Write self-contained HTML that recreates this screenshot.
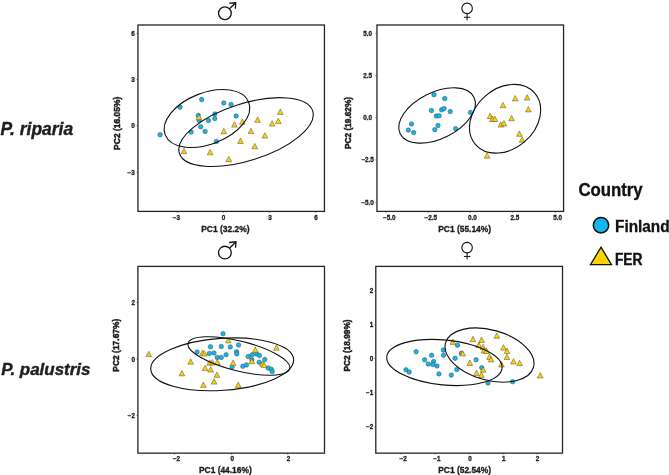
<!DOCTYPE html>
<html><head><meta charset="utf-8"><style>
html,body{margin:0;padding:0;background:#fff;}
body{width:669px;height:475px;overflow:hidden;}
svg{display:block;will-change:transform;}
</style></head><body>
<svg width="669" height="475" viewBox="0 0 669 475">
<rect width="669" height="475" fill="#fff"/>
<line x1="177.3" y1="211.4" x2="177.3" y2="213.0" stroke="#555" stroke-width="0.6"/><text x="176.3" y="220" text-anchor="middle" font-family="Liberation Sans" font-weight="bold" font-size="6.3" fill="#1e1e1e" stroke="#1e1e1e" stroke-width="0.3">−3</text>
<line x1="223.3" y1="211.4" x2="223.3" y2="213.0" stroke="#555" stroke-width="0.6"/><text x="223.5" y="220" text-anchor="middle" font-family="Liberation Sans" font-weight="bold" font-size="6.3" fill="#1e1e1e" stroke="#1e1e1e" stroke-width="0.3">0</text>
<line x1="269.5" y1="211.4" x2="269.5" y2="213.0" stroke="#555" stroke-width="0.6"/><text x="269.9" y="220" text-anchor="middle" font-family="Liberation Sans" font-weight="bold" font-size="6.3" fill="#1e1e1e" stroke="#1e1e1e" stroke-width="0.3">3</text>
<line x1="315.6" y1="211.4" x2="315.6" y2="213.0" stroke="#555" stroke-width="0.6"/><text x="315.9" y="220" text-anchor="middle" font-family="Liberation Sans" font-weight="bold" font-size="6.3" fill="#1e1e1e" stroke="#1e1e1e" stroke-width="0.3">6</text>
<line x1="136.35" y1="33.4" x2="137.95" y2="33.4" stroke="#555" stroke-width="0.6"/><text x="134.7" y="36" text-anchor="end" font-family="Liberation Sans" font-weight="bold" font-size="6.3" fill="#1e1e1e" stroke="#1e1e1e" stroke-width="0.3">6</text>
<line x1="136.35" y1="79.6" x2="137.95" y2="79.6" stroke="#555" stroke-width="0.6"/><text x="134.7" y="82" text-anchor="end" font-family="Liberation Sans" font-weight="bold" font-size="6.3" fill="#1e1e1e" stroke="#1e1e1e" stroke-width="0.3">3</text>
<line x1="136.35" y1="125.7" x2="137.95" y2="125.7" stroke="#555" stroke-width="0.6"/><text x="134.7" y="128" text-anchor="end" font-family="Liberation Sans" font-weight="bold" font-size="6.3" fill="#1e1e1e" stroke="#1e1e1e" stroke-width="0.3">0</text>
<line x1="136.35" y1="172.3" x2="137.95" y2="172.3" stroke="#555" stroke-width="0.6"/><text x="134.7" y="175" text-anchor="end" font-family="Liberation Sans" font-weight="bold" font-size="6.3" fill="#1e1e1e" stroke="#1e1e1e" stroke-width="0.3">−3</text>
<line x1="386" y1="211.4" x2="386" y2="213.0" stroke="#555" stroke-width="0.6"/><text x="389.2" y="220" text-anchor="middle" font-family="Liberation Sans" font-weight="bold" font-size="6.3" fill="#1e1e1e" stroke="#1e1e1e" stroke-width="0.3">−5.0</text>
<line x1="428.1" y1="211.4" x2="428.1" y2="213.0" stroke="#555" stroke-width="0.6"/><text x="430.8" y="220" text-anchor="middle" font-family="Liberation Sans" font-weight="bold" font-size="6.3" fill="#1e1e1e" stroke="#1e1e1e" stroke-width="0.3">−2.5</text>
<line x1="470.1" y1="211.4" x2="470.1" y2="213.0" stroke="#555" stroke-width="0.6"/><text x="472.5" y="220" text-anchor="middle" font-family="Liberation Sans" font-weight="bold" font-size="6.3" fill="#1e1e1e" stroke="#1e1e1e" stroke-width="0.3">0.0</text>
<line x1="512.7" y1="211.4" x2="512.7" y2="213.0" stroke="#555" stroke-width="0.6"/><text x="515" y="220" text-anchor="middle" font-family="Liberation Sans" font-weight="bold" font-size="6.3" fill="#1e1e1e" stroke="#1e1e1e" stroke-width="0.3">2.5</text>
<line x1="555.3" y1="211.4" x2="555.3" y2="213.0" stroke="#555" stroke-width="0.6"/><text x="557.6" y="220" text-anchor="middle" font-family="Liberation Sans" font-weight="bold" font-size="6.3" fill="#1e1e1e" stroke="#1e1e1e" stroke-width="0.3">5.0</text>
<line x1="375.34999999999997" y1="33.4" x2="376.95" y2="33.4" stroke="#555" stroke-width="0.6"/><text x="367.6" y="36" text-anchor="middle" font-family="Liberation Sans" font-weight="bold" font-size="6.3" fill="#1e1e1e" stroke="#1e1e1e" stroke-width="0.3">5.0</text>
<line x1="375.34999999999997" y1="75.5" x2="376.95" y2="75.5" stroke="#555" stroke-width="0.6"/><text x="367.6" y="78" text-anchor="middle" font-family="Liberation Sans" font-weight="bold" font-size="6.3" fill="#1e1e1e" stroke="#1e1e1e" stroke-width="0.3">2.5</text>
<line x1="375.34999999999997" y1="117.6" x2="376.95" y2="117.6" stroke="#555" stroke-width="0.6"/><text x="367.6" y="120" text-anchor="middle" font-family="Liberation Sans" font-weight="bold" font-size="6.3" fill="#1e1e1e" stroke="#1e1e1e" stroke-width="0.3">0.0</text>
<line x1="375.34999999999997" y1="159.8" x2="376.95" y2="159.8" stroke="#555" stroke-width="0.6"/><text x="367.6" y="162" text-anchor="middle" font-family="Liberation Sans" font-weight="bold" font-size="6.3" fill="#1e1e1e" stroke="#1e1e1e" stroke-width="0.3">−2.5</text>
<line x1="375.34999999999997" y1="202.2" x2="376.95" y2="202.2" stroke="#555" stroke-width="0.6"/><text x="367.6" y="205" text-anchor="middle" font-family="Liberation Sans" font-weight="bold" font-size="6.3" fill="#1e1e1e" stroke="#1e1e1e" stroke-width="0.3">−5.0</text>
<line x1="174.4" y1="453.15" x2="174.4" y2="454.75" stroke="#555" stroke-width="0.6"/><text x="176.5" y="461" text-anchor="middle" font-family="Liberation Sans" font-weight="bold" font-size="6.3" fill="#1e1e1e" stroke="#1e1e1e" stroke-width="0.3">−2</text>
<line x1="231.4" y1="453.15" x2="231.4" y2="454.75" stroke="#555" stroke-width="0.6"/><text x="232.2" y="461" text-anchor="middle" font-family="Liberation Sans" font-weight="bold" font-size="6.3" fill="#1e1e1e" stroke="#1e1e1e" stroke-width="0.3">0</text>
<line x1="287.6" y1="453.15" x2="287.6" y2="454.75" stroke="#555" stroke-width="0.6"/><text x="288.45" y="461" text-anchor="middle" font-family="Liberation Sans" font-weight="bold" font-size="6.3" fill="#1e1e1e" stroke="#1e1e1e" stroke-width="0.3">2</text>
<line x1="136.3" y1="302.4" x2="137.9" y2="302.4" stroke="#555" stroke-width="0.6"/><text x="134.9" y="305" text-anchor="end" font-family="Liberation Sans" font-weight="bold" font-size="6.3" fill="#1e1e1e" stroke="#1e1e1e" stroke-width="0.3">2</text>
<line x1="136.3" y1="359.0" x2="137.9" y2="359.0" stroke="#555" stroke-width="0.6"/><text x="134.9" y="362" text-anchor="end" font-family="Liberation Sans" font-weight="bold" font-size="6.3" fill="#1e1e1e" stroke="#1e1e1e" stroke-width="0.3">0</text>
<line x1="136.3" y1="415.6" x2="137.9" y2="415.6" stroke="#555" stroke-width="0.6"/><text x="134.9" y="418" text-anchor="end" font-family="Liberation Sans" font-weight="bold" font-size="6.3" fill="#1e1e1e" stroke="#1e1e1e" stroke-width="0.3">−2</text>
<line x1="401.2" y1="453.15" x2="401.2" y2="454.75" stroke="#555" stroke-width="0.6"/><text x="403.2" y="461" text-anchor="middle" font-family="Liberation Sans" font-weight="bold" font-size="6.3" fill="#1e1e1e" stroke="#1e1e1e" stroke-width="0.3">−2</text>
<line x1="435.1" y1="453.15" x2="435.1" y2="454.75" stroke="#555" stroke-width="0.6"/><text x="436.8" y="461" text-anchor="middle" font-family="Liberation Sans" font-weight="bold" font-size="6.3" fill="#1e1e1e" stroke="#1e1e1e" stroke-width="0.3">−1</text>
<line x1="469.1" y1="453.15" x2="469.1" y2="454.75" stroke="#555" stroke-width="0.6"/><text x="469.9" y="461" text-anchor="middle" font-family="Liberation Sans" font-weight="bold" font-size="6.3" fill="#1e1e1e" stroke="#1e1e1e" stroke-width="0.3">0</text>
<line x1="503.05" y1="453.15" x2="503.05" y2="454.75" stroke="#555" stroke-width="0.6"/><text x="503.8" y="461" text-anchor="middle" font-family="Liberation Sans" font-weight="bold" font-size="6.3" fill="#1e1e1e" stroke="#1e1e1e" stroke-width="0.3">1</text>
<line x1="537.0" y1="453.15" x2="537.0" y2="454.75" stroke="#555" stroke-width="0.6"/><text x="537.4" y="461" text-anchor="middle" font-family="Liberation Sans" font-weight="bold" font-size="6.3" fill="#1e1e1e" stroke="#1e1e1e" stroke-width="0.3">2</text>
<line x1="374.2" y1="290.9" x2="375.8" y2="290.9" stroke="#555" stroke-width="0.6"/><text x="373.2" y="293" text-anchor="end" font-family="Liberation Sans" font-weight="bold" font-size="6.3" fill="#1e1e1e" stroke="#1e1e1e" stroke-width="0.3">2</text>
<line x1="374.2" y1="324.8" x2="375.8" y2="324.8" stroke="#555" stroke-width="0.6"/><text x="373.2" y="327" text-anchor="end" font-family="Liberation Sans" font-weight="bold" font-size="6.3" fill="#1e1e1e" stroke="#1e1e1e" stroke-width="0.3">1</text>
<line x1="374.2" y1="358.5" x2="375.8" y2="358.5" stroke="#555" stroke-width="0.6"/><text x="373.2" y="361" text-anchor="end" font-family="Liberation Sans" font-weight="bold" font-size="6.3" fill="#1e1e1e" stroke="#1e1e1e" stroke-width="0.3">0</text>
<line x1="374.2" y1="392.8" x2="375.8" y2="392.8" stroke="#555" stroke-width="0.6"/><text x="373.2" y="395" text-anchor="end" font-family="Liberation Sans" font-weight="bold" font-size="6.3" fill="#1e1e1e" stroke="#1e1e1e" stroke-width="0.3">−1</text>
<line x1="374.2" y1="426.9" x2="375.8" y2="426.9" stroke="#555" stroke-width="0.6"/><text x="373.2" y="429" text-anchor="end" font-family="Liberation Sans" font-weight="bold" font-size="6.3" fill="#1e1e1e" stroke="#1e1e1e" stroke-width="0.3">−2</text>
<text x="201.2" y="231.7" textLength="48.30000000000001" lengthAdjust="spacingAndGlyphs" font-family="Liberation Sans" font-weight="bold" font-size="9.4" fill="#1e1e1e" stroke="#1e1e1e" stroke-width="0.35">PC1 (32.2%)</text>
<text x="438.2" y="232.3" textLength="52.900000000000034" lengthAdjust="spacingAndGlyphs" font-family="Liberation Sans" font-weight="bold" font-size="9.4" fill="#1e1e1e" stroke="#1e1e1e" stroke-width="0.35">PC1 (55.14%)</text>
<text x="199.0" y="473.0" textLength="52.69999999999999" lengthAdjust="spacingAndGlyphs" font-family="Liberation Sans" font-weight="bold" font-size="9.4" fill="#1e1e1e" stroke="#1e1e1e" stroke-width="0.35">PC1 (44.16%)</text>
<text x="438.2" y="472.5" textLength="52.900000000000034" lengthAdjust="spacingAndGlyphs" font-family="Liberation Sans" font-weight="bold" font-size="9.4" fill="#1e1e1e" stroke="#1e1e1e" stroke-width="0.35">PC1 (52.54%)</text>
<text x="0" y="0" transform="translate(119.7 149.9) rotate(-90)" textLength="53.30000000000001" lengthAdjust="spacingAndGlyphs" font-family="Liberation Sans" font-weight="bold" font-size="9.4" fill="#1e1e1e" stroke="#1e1e1e" stroke-width="0.5">PC2 (16.05%)</text>
<text x="0" y="0" transform="translate(350.7 149.0) rotate(-90)" textLength="52.099999999999994" lengthAdjust="spacingAndGlyphs" font-family="Liberation Sans" font-weight="bold" font-size="9.4" fill="#1e1e1e" stroke="#1e1e1e" stroke-width="0.5">PC2 (19.62%)</text>
<text x="0" y="0" transform="translate(119.3 371.7) rotate(-90)" textLength="53.099999999999966" lengthAdjust="spacingAndGlyphs" font-family="Liberation Sans" font-weight="bold" font-size="9.4" fill="#1e1e1e" stroke="#1e1e1e" stroke-width="0.5">PC2 (17.67%)</text>
<text x="0" y="0" transform="translate(350.4 371.4) rotate(-90)" textLength="52.0" lengthAdjust="spacingAndGlyphs" font-family="Liberation Sans" font-weight="bold" font-size="9.4" fill="#1e1e1e" stroke="#1e1e1e" stroke-width="0.5">PC2 (18.99%)</text>
<circle cx="160.10" cy="134.70" r="2.25" fill="#14B6F0" stroke="#3a3a3a" stroke-width="0.45"/>
<circle cx="180.00" cy="107.20" r="2.25" fill="#14B6F0" stroke="#3a3a3a" stroke-width="0.45"/>
<circle cx="201.70" cy="99.60" r="2.25" fill="#14B6F0" stroke="#3a3a3a" stroke-width="0.45"/>
<circle cx="223.80" cy="102.90" r="2.25" fill="#14B6F0" stroke="#3a3a3a" stroke-width="0.45"/>
<circle cx="231.00" cy="104.50" r="2.25" fill="#14B6F0" stroke="#3a3a3a" stroke-width="0.45"/>
<circle cx="236.20" cy="116.00" r="2.25" fill="#14B6F0" stroke="#3a3a3a" stroke-width="0.45"/>
<circle cx="198.30" cy="115.50" r="2.25" fill="#14B6F0" stroke="#3a3a3a" stroke-width="0.45"/>
<circle cx="199.20" cy="120.60" r="2.25" fill="#14B6F0" stroke="#3a3a3a" stroke-width="0.45"/>
<circle cx="208.50" cy="120.50" r="2.25" fill="#14B6F0" stroke="#3a3a3a" stroke-width="0.45"/>
<circle cx="214.80" cy="114.00" r="2.25" fill="#14B6F0" stroke="#3a3a3a" stroke-width="0.45"/>
<circle cx="214.80" cy="118.60" r="2.25" fill="#14B6F0" stroke="#3a3a3a" stroke-width="0.45"/>
<circle cx="200.70" cy="126.80" r="2.25" fill="#14B6F0" stroke="#3a3a3a" stroke-width="0.45"/>
<circle cx="205.10" cy="131.40" r="2.25" fill="#14B6F0" stroke="#3a3a3a" stroke-width="0.45"/>
<circle cx="191.10" cy="132.10" r="2.25" fill="#14B6F0" stroke="#3a3a3a" stroke-width="0.45"/>
<circle cx="216.40" cy="141.50" r="2.25" fill="#14B6F0" stroke="#3a3a3a" stroke-width="0.45"/>
<path d="M198.90 114.40L201.75 119.80L196.05 119.80Z" fill="#FDD200" stroke="#3a3a3a" stroke-width="0.45" stroke-linejoin="miter"/>
<path d="M234.50 121.70L237.35 127.10L231.65 127.10Z" fill="#FDD200" stroke="#3a3a3a" stroke-width="0.45" stroke-linejoin="miter"/>
<path d="M242.30 118.90L245.15 124.30L239.45 124.30Z" fill="#FDD200" stroke="#3a3a3a" stroke-width="0.45" stroke-linejoin="miter"/>
<path d="M223.80 128.40L226.65 133.80L220.95 133.80Z" fill="#FDD200" stroke="#3a3a3a" stroke-width="0.45" stroke-linejoin="miter"/>
<path d="M184.00 148.20L186.85 153.60L181.15 153.60Z" fill="#FDD200" stroke="#3a3a3a" stroke-width="0.45" stroke-linejoin="miter"/>
<path d="M210.10 149.40L212.95 154.80L207.25 154.80Z" fill="#FDD200" stroke="#3a3a3a" stroke-width="0.45" stroke-linejoin="miter"/>
<path d="M228.80 156.30L231.65 161.70L225.95 161.70Z" fill="#FDD200" stroke="#3a3a3a" stroke-width="0.45" stroke-linejoin="miter"/>
<path d="M250.90 128.20L253.75 133.60L248.05 133.60Z" fill="#FDD200" stroke="#3a3a3a" stroke-width="0.45" stroke-linejoin="miter"/>
<path d="M240.50 138.10L243.35 143.50L237.65 143.50Z" fill="#FDD200" stroke="#3a3a3a" stroke-width="0.45" stroke-linejoin="miter"/>
<path d="M254.80 143.40L257.65 148.80L251.95 148.80Z" fill="#FDD200" stroke="#3a3a3a" stroke-width="0.45" stroke-linejoin="miter"/>
<path d="M257.60 116.90L260.45 122.30L254.75 122.30Z" fill="#FDD200" stroke="#3a3a3a" stroke-width="0.45" stroke-linejoin="miter"/>
<path d="M264.90 132.70L267.75 138.10L262.05 138.10Z" fill="#FDD200" stroke="#3a3a3a" stroke-width="0.45" stroke-linejoin="miter"/>
<path d="M272.20 120.70L275.05 126.10L269.35 126.10Z" fill="#FDD200" stroke="#3a3a3a" stroke-width="0.45" stroke-linejoin="miter"/>
<path d="M278.30 118.20L281.15 123.60L275.45 123.60Z" fill="#FDD200" stroke="#3a3a3a" stroke-width="0.45" stroke-linejoin="miter"/>
<path d="M280.30 109.00L283.15 114.40L277.45 114.40Z" fill="#FDD200" stroke="#3a3a3a" stroke-width="0.45" stroke-linejoin="miter"/>
<circle cx="434.00" cy="94.70" r="2.25" fill="#14B6F0" stroke="#3a3a3a" stroke-width="0.45"/>
<circle cx="444.80" cy="98.60" r="2.25" fill="#14B6F0" stroke="#3a3a3a" stroke-width="0.45"/>
<circle cx="431.40" cy="110.50" r="2.25" fill="#14B6F0" stroke="#3a3a3a" stroke-width="0.45"/>
<circle cx="441.60" cy="109.80" r="2.25" fill="#14B6F0" stroke="#3a3a3a" stroke-width="0.45"/>
<circle cx="444.10" cy="108.60" r="2.25" fill="#14B6F0" stroke="#3a3a3a" stroke-width="0.45"/>
<circle cx="450.20" cy="111.50" r="2.25" fill="#14B6F0" stroke="#3a3a3a" stroke-width="0.45"/>
<circle cx="436.30" cy="116.10" r="2.25" fill="#14B6F0" stroke="#3a3a3a" stroke-width="0.45"/>
<circle cx="439.20" cy="115.70" r="2.25" fill="#14B6F0" stroke="#3a3a3a" stroke-width="0.45"/>
<circle cx="411.50" cy="123.90" r="2.25" fill="#14B6F0" stroke="#3a3a3a" stroke-width="0.45"/>
<circle cx="408.30" cy="130.10" r="2.25" fill="#14B6F0" stroke="#3a3a3a" stroke-width="0.45"/>
<circle cx="413.70" cy="132.60" r="2.25" fill="#14B6F0" stroke="#3a3a3a" stroke-width="0.45"/>
<circle cx="438.00" cy="125.50" r="2.25" fill="#14B6F0" stroke="#3a3a3a" stroke-width="0.45"/>
<circle cx="434.80" cy="129.70" r="2.25" fill="#14B6F0" stroke="#3a3a3a" stroke-width="0.45"/>
<circle cx="455.60" cy="128.70" r="2.25" fill="#14B6F0" stroke="#3a3a3a" stroke-width="0.45"/>
<circle cx="470.50" cy="112.40" r="2.25" fill="#14B6F0" stroke="#3a3a3a" stroke-width="0.45"/>
<path d="M515.20 95.50L518.05 100.90L512.35 100.90Z" fill="#FDD200" stroke="#3a3a3a" stroke-width="0.45" stroke-linejoin="miter"/>
<path d="M527.10 94.70L529.95 100.10L524.25 100.10Z" fill="#FDD200" stroke="#3a3a3a" stroke-width="0.45" stroke-linejoin="miter"/>
<path d="M503.00 102.30L505.85 107.70L500.15 107.70Z" fill="#FDD200" stroke="#3a3a3a" stroke-width="0.45" stroke-linejoin="miter"/>
<path d="M528.30 106.50L531.15 111.90L525.45 111.90Z" fill="#FDD200" stroke="#3a3a3a" stroke-width="0.45" stroke-linejoin="miter"/>
<path d="M490.10 113.20L492.95 118.60L487.25 118.60Z" fill="#FDD200" stroke="#3a3a3a" stroke-width="0.45" stroke-linejoin="miter"/>
<path d="M492.40 116.10L495.25 121.50L489.55 121.50Z" fill="#FDD200" stroke="#3a3a3a" stroke-width="0.45" stroke-linejoin="miter"/>
<path d="M494.80 116.10L497.65 121.50L491.95 121.50Z" fill="#FDD200" stroke="#3a3a3a" stroke-width="0.45" stroke-linejoin="miter"/>
<path d="M511.60 115.40L514.45 120.80L508.75 120.80Z" fill="#FDD200" stroke="#3a3a3a" stroke-width="0.45" stroke-linejoin="miter"/>
<path d="M500.80 121.70L503.65 127.10L497.95 127.10Z" fill="#FDD200" stroke="#3a3a3a" stroke-width="0.45" stroke-linejoin="miter"/>
<path d="M503.90 120.50L506.75 125.90L501.05 125.90Z" fill="#FDD200" stroke="#3a3a3a" stroke-width="0.45" stroke-linejoin="miter"/>
<path d="M519.40 130.90L522.25 136.30L516.55 136.30Z" fill="#FDD200" stroke="#3a3a3a" stroke-width="0.45" stroke-linejoin="miter"/>
<path d="M522.10 136.80L524.95 142.20L519.25 142.20Z" fill="#FDD200" stroke="#3a3a3a" stroke-width="0.45" stroke-linejoin="miter"/>
<path d="M487.00 152.80L489.85 158.20L484.15 158.20Z" fill="#FDD200" stroke="#3a3a3a" stroke-width="0.45" stroke-linejoin="miter"/>
<circle cx="223.00" cy="333.70" r="2.25" fill="#14B6F0" stroke="#3a3a3a" stroke-width="0.45"/>
<circle cx="210.50" cy="346.80" r="2.25" fill="#14B6F0" stroke="#3a3a3a" stroke-width="0.45"/>
<circle cx="221.30" cy="346.50" r="2.25" fill="#14B6F0" stroke="#3a3a3a" stroke-width="0.45"/>
<circle cx="230.30" cy="346.90" r="2.25" fill="#14B6F0" stroke="#3a3a3a" stroke-width="0.45"/>
<circle cx="238.50" cy="345.00" r="2.25" fill="#14B6F0" stroke="#3a3a3a" stroke-width="0.45"/>
<circle cx="197.10" cy="352.00" r="2.25" fill="#14B6F0" stroke="#3a3a3a" stroke-width="0.45"/>
<circle cx="209.30" cy="353.40" r="2.25" fill="#14B6F0" stroke="#3a3a3a" stroke-width="0.45"/>
<circle cx="214.00" cy="353.10" r="2.25" fill="#14B6F0" stroke="#3a3a3a" stroke-width="0.45"/>
<circle cx="226.10" cy="354.70" r="2.25" fill="#14B6F0" stroke="#3a3a3a" stroke-width="0.45"/>
<circle cx="236.60" cy="351.80" r="2.25" fill="#14B6F0" stroke="#3a3a3a" stroke-width="0.45"/>
<circle cx="236.80" cy="353.90" r="2.25" fill="#14B6F0" stroke="#3a3a3a" stroke-width="0.45"/>
<circle cx="217.20" cy="357.40" r="2.25" fill="#14B6F0" stroke="#3a3a3a" stroke-width="0.45"/>
<circle cx="221.30" cy="357.40" r="2.25" fill="#14B6F0" stroke="#3a3a3a" stroke-width="0.45"/>
<circle cx="232.10" cy="366.90" r="2.25" fill="#14B6F0" stroke="#3a3a3a" stroke-width="0.45"/>
<circle cx="242.80" cy="366.30" r="2.25" fill="#14B6F0" stroke="#3a3a3a" stroke-width="0.45"/>
<circle cx="246.50" cy="364.90" r="2.25" fill="#14B6F0" stroke="#3a3a3a" stroke-width="0.45"/>
<circle cx="248.20" cy="356.60" r="2.25" fill="#14B6F0" stroke="#3a3a3a" stroke-width="0.45"/>
<circle cx="252.20" cy="354.80" r="2.25" fill="#14B6F0" stroke="#3a3a3a" stroke-width="0.45"/>
<circle cx="251.90" cy="359.80" r="2.25" fill="#14B6F0" stroke="#3a3a3a" stroke-width="0.45"/>
<circle cx="256.70" cy="353.90" r="2.25" fill="#14B6F0" stroke="#3a3a3a" stroke-width="0.45"/>
<circle cx="259.50" cy="355.50" r="2.25" fill="#14B6F0" stroke="#3a3a3a" stroke-width="0.45"/>
<circle cx="264.80" cy="359.50" r="2.25" fill="#14B6F0" stroke="#3a3a3a" stroke-width="0.45"/>
<circle cx="259.20" cy="362.20" r="2.25" fill="#14B6F0" stroke="#3a3a3a" stroke-width="0.45"/>
<circle cx="268.20" cy="367.90" r="2.25" fill="#14B6F0" stroke="#3a3a3a" stroke-width="0.45"/>
<circle cx="271.20" cy="369.20" r="2.25" fill="#14B6F0" stroke="#3a3a3a" stroke-width="0.45"/>
<circle cx="272.20" cy="371.60" r="2.25" fill="#14B6F0" stroke="#3a3a3a" stroke-width="0.45"/>
<path d="M148.80 351.20L151.65 356.60L145.95 356.60Z" fill="#FDD200" stroke="#3a3a3a" stroke-width="0.45" stroke-linejoin="miter"/>
<path d="M190.70 358.80L193.55 364.20L187.85 364.20Z" fill="#FDD200" stroke="#3a3a3a" stroke-width="0.45" stroke-linejoin="miter"/>
<path d="M181.90 370.50L184.75 375.90L179.05 375.90Z" fill="#FDD200" stroke="#3a3a3a" stroke-width="0.45" stroke-linejoin="miter"/>
<path d="M202.60 349.90L205.45 355.30L199.75 355.30Z" fill="#FDD200" stroke="#3a3a3a" stroke-width="0.45" stroke-linejoin="miter"/>
<path d="M204.40 350.70L207.25 356.10L201.55 356.10Z" fill="#FDD200" stroke="#3a3a3a" stroke-width="0.45" stroke-linejoin="miter"/>
<path d="M209.60 359.80L212.45 365.20L206.75 365.20Z" fill="#FDD200" stroke="#3a3a3a" stroke-width="0.45" stroke-linejoin="miter"/>
<path d="M212.40 359.60L215.25 365.00L209.55 365.00Z" fill="#FDD200" stroke="#3a3a3a" stroke-width="0.45" stroke-linejoin="miter"/>
<path d="M217.40 359.30L220.25 364.70L214.55 364.70Z" fill="#FDD200" stroke="#3a3a3a" stroke-width="0.45" stroke-linejoin="miter"/>
<path d="M205.10 365.20L207.95 370.60L202.25 370.60Z" fill="#FDD200" stroke="#3a3a3a" stroke-width="0.45" stroke-linejoin="miter"/>
<path d="M210.70 366.60L213.55 372.00L207.85 372.00Z" fill="#FDD200" stroke="#3a3a3a" stroke-width="0.45" stroke-linejoin="miter"/>
<path d="M216.90 372.00L219.75 377.40L214.05 377.40Z" fill="#FDD200" stroke="#3a3a3a" stroke-width="0.45" stroke-linejoin="miter"/>
<path d="M214.10 378.70L216.95 384.10L211.25 384.10Z" fill="#FDD200" stroke="#3a3a3a" stroke-width="0.45" stroke-linejoin="miter"/>
<path d="M203.40 382.00L206.25 387.40L200.55 387.40Z" fill="#FDD200" stroke="#3a3a3a" stroke-width="0.45" stroke-linejoin="miter"/>
<path d="M228.30 337.50L231.15 342.90L225.45 342.90Z" fill="#FDD200" stroke="#3a3a3a" stroke-width="0.45" stroke-linejoin="miter"/>
<path d="M255.30 347.00L258.15 352.40L252.45 352.40Z" fill="#FDD200" stroke="#3a3a3a" stroke-width="0.45" stroke-linejoin="miter"/>
<path d="M276.40 344.80L279.25 350.20L273.55 350.20Z" fill="#FDD200" stroke="#3a3a3a" stroke-width="0.45" stroke-linejoin="miter"/>
<path d="M233.10 360.00L235.95 365.40L230.25 365.40Z" fill="#FDD200" stroke="#3a3a3a" stroke-width="0.45" stroke-linejoin="miter"/>
<path d="M251.80 358.30L254.65 363.70L248.95 363.70Z" fill="#FDD200" stroke="#3a3a3a" stroke-width="0.45" stroke-linejoin="miter"/>
<path d="M262.45 360.90L265.30 366.30L259.60 366.30Z" fill="#FDD200" stroke="#3a3a3a" stroke-width="0.45" stroke-linejoin="miter"/>
<path d="M264.15 362.20L267.00 367.60L261.30 367.60Z" fill="#FDD200" stroke="#3a3a3a" stroke-width="0.45" stroke-linejoin="miter"/>
<path d="M238.20 382.00L241.05 387.40L235.35 387.40Z" fill="#FDD200" stroke="#3a3a3a" stroke-width="0.45" stroke-linejoin="miter"/>
<circle cx="416.10" cy="351.70" r="2.25" fill="#14B6F0" stroke="#3a3a3a" stroke-width="0.45"/>
<circle cx="406.00" cy="369.80" r="2.25" fill="#14B6F0" stroke="#3a3a3a" stroke-width="0.45"/>
<circle cx="409.20" cy="372.10" r="2.25" fill="#14B6F0" stroke="#3a3a3a" stroke-width="0.45"/>
<circle cx="424.60" cy="359.80" r="2.25" fill="#14B6F0" stroke="#3a3a3a" stroke-width="0.45"/>
<circle cx="428.30" cy="364.00" r="2.25" fill="#14B6F0" stroke="#3a3a3a" stroke-width="0.45"/>
<circle cx="431.60" cy="355.30" r="2.25" fill="#14B6F0" stroke="#3a3a3a" stroke-width="0.45"/>
<circle cx="433.60" cy="361.60" r="2.25" fill="#14B6F0" stroke="#3a3a3a" stroke-width="0.45"/>
<circle cx="432.80" cy="364.60" r="2.25" fill="#14B6F0" stroke="#3a3a3a" stroke-width="0.45"/>
<circle cx="437.00" cy="366.00" r="2.25" fill="#14B6F0" stroke="#3a3a3a" stroke-width="0.45"/>
<circle cx="438.90" cy="373.90" r="2.25" fill="#14B6F0" stroke="#3a3a3a" stroke-width="0.45"/>
<circle cx="443.30" cy="350.00" r="2.25" fill="#14B6F0" stroke="#3a3a3a" stroke-width="0.45"/>
<circle cx="443.50" cy="355.20" r="2.25" fill="#14B6F0" stroke="#3a3a3a" stroke-width="0.45"/>
<circle cx="451.30" cy="375.10" r="2.25" fill="#14B6F0" stroke="#3a3a3a" stroke-width="0.45"/>
<circle cx="455.10" cy="358.30" r="2.25" fill="#14B6F0" stroke="#3a3a3a" stroke-width="0.45"/>
<circle cx="457.50" cy="345.20" r="2.25" fill="#14B6F0" stroke="#3a3a3a" stroke-width="0.45"/>
<circle cx="456.80" cy="369.50" r="2.25" fill="#14B6F0" stroke="#3a3a3a" stroke-width="0.45"/>
<circle cx="461.40" cy="353.30" r="2.25" fill="#14B6F0" stroke="#3a3a3a" stroke-width="0.45"/>
<circle cx="476.10" cy="359.80" r="2.25" fill="#14B6F0" stroke="#3a3a3a" stroke-width="0.45"/>
<circle cx="481.70" cy="367.70" r="2.25" fill="#14B6F0" stroke="#3a3a3a" stroke-width="0.45"/>
<circle cx="488.00" cy="383.10" r="2.25" fill="#14B6F0" stroke="#3a3a3a" stroke-width="0.45"/>
<circle cx="512.60" cy="381.70" r="2.25" fill="#14B6F0" stroke="#3a3a3a" stroke-width="0.45"/>
<path d="M452.90 339.00L455.75 344.40L450.05 344.40Z" fill="#FDD200" stroke="#3a3a3a" stroke-width="0.45" stroke-linejoin="miter"/>
<path d="M472.90 336.30L475.75 341.70L470.05 341.70Z" fill="#FDD200" stroke="#3a3a3a" stroke-width="0.45" stroke-linejoin="miter"/>
<path d="M481.60 337.10L484.45 342.50L478.75 342.50Z" fill="#FDD200" stroke="#3a3a3a" stroke-width="0.45" stroke-linejoin="miter"/>
<path d="M496.80 332.90L499.65 338.30L493.95 338.30Z" fill="#FDD200" stroke="#3a3a3a" stroke-width="0.45" stroke-linejoin="miter"/>
<path d="M478.80 342.20L481.65 347.60L475.95 347.60Z" fill="#FDD200" stroke="#3a3a3a" stroke-width="0.45" stroke-linejoin="miter"/>
<path d="M483.10 344.30L485.95 349.70L480.25 349.70Z" fill="#FDD200" stroke="#3a3a3a" stroke-width="0.45" stroke-linejoin="miter"/>
<path d="M483.90 347.60L486.75 353.00L481.05 353.00Z" fill="#FDD200" stroke="#3a3a3a" stroke-width="0.45" stroke-linejoin="miter"/>
<path d="M486.40 348.10L489.25 353.50L483.55 353.50Z" fill="#FDD200" stroke="#3a3a3a" stroke-width="0.45" stroke-linejoin="miter"/>
<path d="M462.60 350.60L465.45 356.00L459.75 356.00Z" fill="#FDD200" stroke="#3a3a3a" stroke-width="0.45" stroke-linejoin="miter"/>
<path d="M503.50 344.70L506.35 350.10L500.65 350.10Z" fill="#FDD200" stroke="#3a3a3a" stroke-width="0.45" stroke-linejoin="miter"/>
<path d="M507.10 348.10L509.95 353.50L504.25 353.50Z" fill="#FDD200" stroke="#3a3a3a" stroke-width="0.45" stroke-linejoin="miter"/>
<path d="M506.90 354.10L509.75 359.50L504.05 359.50Z" fill="#FDD200" stroke="#3a3a3a" stroke-width="0.45" stroke-linejoin="miter"/>
<path d="M489.50 354.00L492.35 359.40L486.65 359.40Z" fill="#FDD200" stroke="#3a3a3a" stroke-width="0.45" stroke-linejoin="miter"/>
<path d="M491.10 356.50L493.95 361.90L488.25 361.90Z" fill="#FDD200" stroke="#3a3a3a" stroke-width="0.45" stroke-linejoin="miter"/>
<path d="M469.80 360.10L472.65 365.50L466.95 365.50Z" fill="#FDD200" stroke="#3a3a3a" stroke-width="0.45" stroke-linejoin="miter"/>
<path d="M501.50 361.60L504.35 367.00L498.65 367.00Z" fill="#FDD200" stroke="#3a3a3a" stroke-width="0.45" stroke-linejoin="miter"/>
<path d="M513.50 358.70L516.35 364.10L510.65 364.10Z" fill="#FDD200" stroke="#3a3a3a" stroke-width="0.45" stroke-linejoin="miter"/>
<path d="M519.60 360.30L522.45 365.70L516.75 365.70Z" fill="#FDD200" stroke="#3a3a3a" stroke-width="0.45" stroke-linejoin="miter"/>
<path d="M483.10 366.80L485.95 372.20L480.25 372.20Z" fill="#FDD200" stroke="#3a3a3a" stroke-width="0.45" stroke-linejoin="miter"/>
<path d="M476.50 370.20L479.35 375.60L473.65 375.60Z" fill="#FDD200" stroke="#3a3a3a" stroke-width="0.45" stroke-linejoin="miter"/>
<path d="M481.50 372.10L484.35 377.50L478.65 377.50Z" fill="#FDD200" stroke="#3a3a3a" stroke-width="0.45" stroke-linejoin="miter"/>
<path d="M540.30 372.60L543.15 378.00L537.45 378.00Z" fill="#FDD200" stroke="#3a3a3a" stroke-width="0.45" stroke-linejoin="miter"/>
<ellipse cx="206.99" cy="118.54" rx="44.83" ry="25.69" transform="rotate(158.65 206.99 118.54)" fill="none" stroke="#111" stroke-width="1.1"/>
<ellipse cx="246.02" cy="132.08" rx="69.93" ry="28.47" transform="rotate(162.39 246.02 132.08)" fill="none" stroke="#111" stroke-width="1.1"/>
<ellipse cx="437.04" cy="115.48" rx="41.19" ry="23.16" transform="rotate(153.61 437.04 115.48)" fill="none" stroke="#111" stroke-width="1.1"/>
<ellipse cx="505.07" cy="118.75" rx="39.18" ry="30.15" transform="rotate(138.83 505.07 118.75)" fill="none" stroke="#111" stroke-width="1.1"/>
<ellipse cx="238.93" cy="356.01" rx="52.41" ry="14.95" transform="rotate(-165.97 238.93 356.01)" fill="none" stroke="#111" stroke-width="1.1"/>
<ellipse cx="222.20" cy="364.33" rx="71.60" ry="26.03" transform="rotate(175.97 222.20 364.33)" fill="none" stroke="#111" stroke-width="1.1"/>
<ellipse cx="444.38" cy="362.49" rx="57.91" ry="22.48" transform="rotate(-174.36 444.38 362.49)" fill="none" stroke="#111" stroke-width="1.1"/>
<ellipse cx="489.53" cy="355.07" rx="45.62" ry="25.09" transform="rotate(-164.53 489.53 355.07)" fill="none" stroke="#111" stroke-width="1.1"/>
<rect x="137.95" y="25.0" width="186.5" height="186.4" fill="none" stroke="#252525" stroke-width="1.3"/>
<rect x="376.95" y="25.0" width="186.59999999999997" height="186.4" fill="none" stroke="#252525" stroke-width="1.3"/>
<rect x="137.9" y="266.4" width="186.6" height="186.75" fill="none" stroke="#252525" stroke-width="1.3"/>
<rect x="375.8" y="266.4" width="186.7" height="186.75" fill="none" stroke="#252525" stroke-width="1.3"/>
<circle cx="224.9" cy="13.2" r="6.35" fill="none" stroke="#111" stroke-width="1.3"/><line x1="229.47" y1="8.80" x2="235.30" y2="3.20" stroke="#111" stroke-width="1.3"/><path d="M229.20 3.10L235.70 2.80L235.40 8.70" fill="none" stroke="#111" stroke-width="1.3" stroke-linejoin="miter"/>
<circle cx="467.1" cy="8.4" r="5.25" fill="none" stroke="#111" stroke-width="1.1"/><line x1="467.1" y1="13.65" x2="467.1" y2="20.25" stroke="#111" stroke-width="1.05"/><line x1="463.90000000000003" y1="17.25" x2="470.40000000000003" y2="17.25" stroke="#111" stroke-width="1.0"/>
<circle cx="224.9" cy="252.6" r="6.35" fill="none" stroke="#111" stroke-width="1.3"/><line x1="229.45" y1="248.17" x2="235.60" y2="242.20" stroke="#111" stroke-width="1.3"/><path d="M229.20 242.50L236.00 241.80L235.50 247.80" fill="none" stroke="#111" stroke-width="1.3" stroke-linejoin="miter"/>
<circle cx="467.1" cy="247.6" r="5.25" fill="none" stroke="#111" stroke-width="1.1"/><line x1="467.1" y1="252.85" x2="467.1" y2="259.45" stroke="#111" stroke-width="1.05"/><line x1="463.90000000000003" y1="256.45" x2="470.40000000000003" y2="256.45" stroke="#111" stroke-width="1.0"/>
<text x="0.6" y="135.2" textLength="72.6" lengthAdjust="spacingAndGlyphs" font-family="Liberation Sans" font-weight="bold" font-style="italic" font-size="17.5" fill="#1f1f1f" stroke="#1f1f1f" stroke-width="0.4">P. riparia</text>
<text x="1.3" y="375.1" textLength="89.2" lengthAdjust="spacingAndGlyphs" font-family="Liberation Sans" font-weight="bold" font-style="italic" font-size="16.4" fill="#1f1f1f" stroke="#1f1f1f" stroke-width="0.4">P. palustris</text>
<text x="578.4" y="195.6" font-size="17.8" textLength="64.3" lengthAdjust="spacingAndGlyphs" stroke="#111" stroke-width="0.35" font-family="Liberation Sans" font-weight="bold" fill="#111">Country</text>
<circle cx="601" cy="225.2" r="7.7" fill="#14B6F0" stroke="#111" stroke-width="1.5"/>
<text x="615" y="231.6" font-size="16" textLength="54.6" lengthAdjust="spacingAndGlyphs" stroke="#111" stroke-width="0.3" font-family="Liberation Sans" font-weight="bold" fill="#111">Finland</text>
<path d="M601 247.2L611.5 264.7L590.5 264.7Z" fill="#FDD200" stroke="#111" stroke-width="1.3" stroke-linejoin="miter"/>
<text x="614.9" y="264.9" font-size="16" textLength="27.4" lengthAdjust="spacingAndGlyphs" stroke="#111" stroke-width="0.45" font-family="Liberation Sans" font-weight="bold" fill="#111">FER</text>
</svg>
</body></html>
